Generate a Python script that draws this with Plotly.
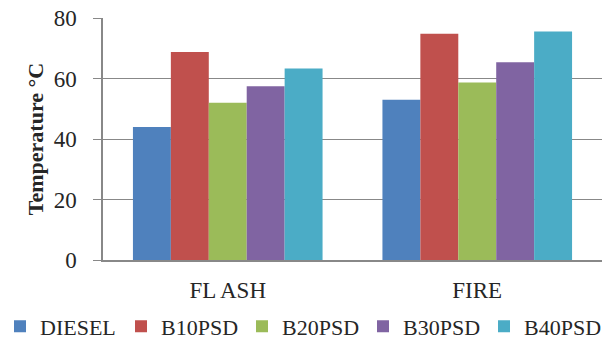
import plotly.graph_objects as go

categories = ["FL ASH", "FIRE"]
series_names = ["DIESEL", "B10PSD", "B20PSD", "B30PSD", "B40PSD"]
diesel = [44, 53]
b10psd = [68.8, 74.8]
b20psd = [52, 58.7]
b30psd = [57.4, 65.4]
b40psd = [63.3, 75.5]
colors = ["#4F81BD", "#C0504D", "#9BBB59", "#8064A2", "#4BACC6"]
y_ticks = [0, 20, 40, 60, 80]

values = [diesel, b10psd, b20psd, b30psd, b40psd]
font_family = "Liberation Serif, Times New Roman, serif"

fig = go.Figure()
for name, vals, col in zip(series_names, values, colors):
    fig.add_trace(go.Bar(x=categories, y=vals, name=name, marker=dict(color=col, line=dict(width=0))))

fig.update_layout(
    width=613, height=342,
    margin=dict(l=103, r=11, t=18, b=82, autoexpand=False),
    paper_bgcolor="white", plot_bgcolor="white",
    barmode="group", bargap=0.24, bargroupgap=0,
    font=dict(family=font_family, size=22, color="#262626"),
    showlegend=True,
    legend=dict(orientation="h", x=-0.2064, xanchor="left", y=-0.275, yanchor="middle",
                font=dict(size=22, family=font_family), traceorder="normal",
                itemwidth=30, entrywidth=76, tracegroupgap=0),
    xaxis=dict(showline=True, linecolor="#888", linewidth=1.5, ticks="", showgrid=False,
               tickfont=dict(size=23), ticklabelstandoff=9),
    yaxis=dict(range=[0, 80], tickvals=y_ticks, showgrid=True, gridcolor="#888", gridwidth=1.2,
               showline=True, linecolor="#888", linewidth=1.5, ticks="outside", ticklen=8,
               tickcolor="#888", tickfont=dict(size=23), zeroline=False, ticklabelstandoff=12,
               title=dict(text="<b>Temperature °C</b>", font=dict(size=22), standoff=4)),
)

fig.write_html("out.html", config={"displayModeBar": False},
               post_script="document.body.style.margin='0';")
